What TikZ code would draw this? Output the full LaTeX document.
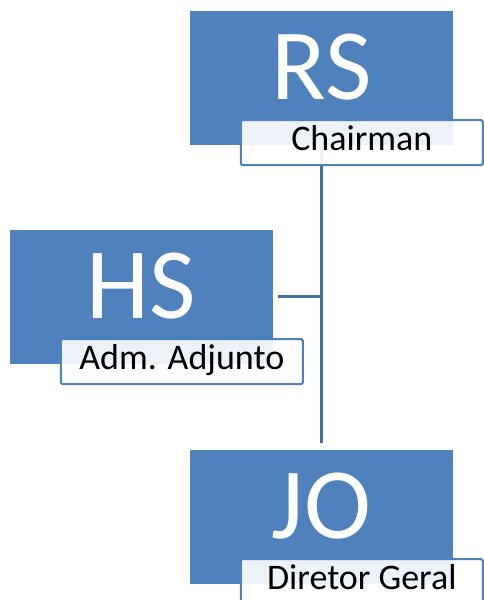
\documentclass[tikz,border=0pt]{standalone}
\usepackage{fontspec}
\setmainfont{Carlito}
\usepackage{tikz}
\usetikzlibrary{calc}
\definecolor{boxblue}{HTML}{4F81BD}
\definecolor{linkblue}{HTML}{41709E}
\tikzset{
  head/.style={fill=boxblue, draw=none, minimum width=263pt, minimum height=134pt, inner sep=0pt,
    text=white, font=\fontsize{101}{101}\selectfont, text height=65pt, text depth=22pt},
  tag/.style={draw=boxblue, line width=2pt, fill=white, fill opacity=0.9, text opacity=1,
    rounded corners=1.5pt, minimum width=242pt, minimum height=45pt, inner sep=0pt, anchor=north west,
    font=\fontsize{36}{36}\selectfont, text height=22.5pt, text depth=6pt},
  link/.style={draw=linkblue, line width=3pt},
}
\begin{document}
\begin{tikzpicture}[x=1pt,y=1pt]
  \useasboundingbox (0,0) rectangle (484,600);

  \node[head] (rs) at (321.5,522) {RS};
  \node[head] (hs) at (141.5,303) {HS};
  \node[head] (jo) at (321.5,83) {JO};

  \draw[link] (rs.south) -- ([yshift=7pt]jo.north);
  \draw[link] ([xshift=5pt]hs.east) -- (rs.south |- hs.east);

  \node[tag] (rsTag) at ($(rs.south west)+(50,26)$) {Chairman};
  \node[tag] (hsTag) at ($(hs.south west)+(50,26)$) {Adm. Adjunto};
  \node[tag] (joTag) at ($(jo.south west)+(50,26)$) {Diretor Geral};
\end{tikzpicture}
\end{document}
